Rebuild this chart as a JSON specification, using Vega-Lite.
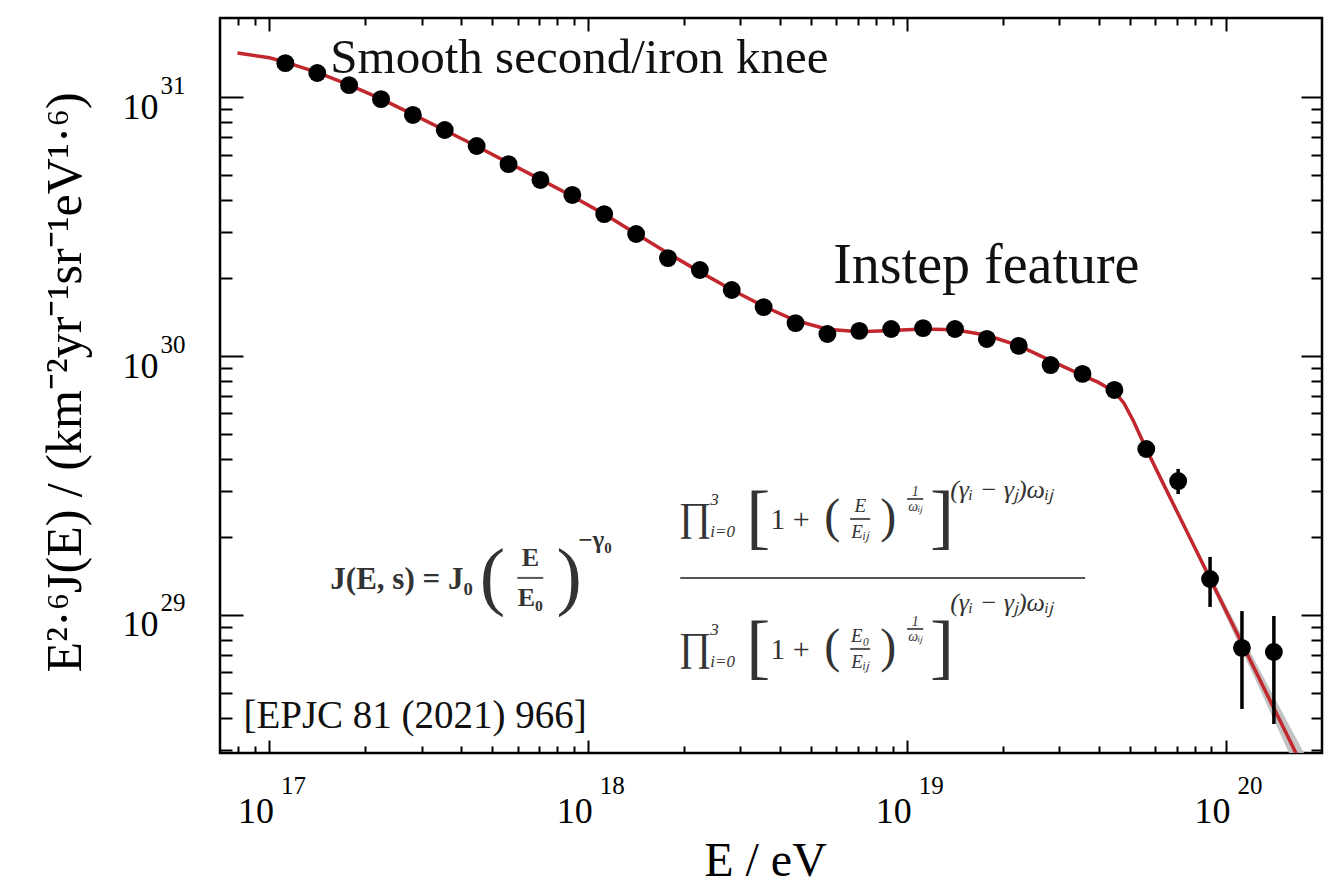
{
  "$schema": "https://vega.github.io/schema/vega-lite/v6.json",
  "width": 1102,
  "height": 735,
  "autosize": {"type": "none"},
  "padding": {"left": 220, "top": 18, "right": 10, "bottom": 141},
  "background": "white",
  "config": {
    "view": {"stroke": "black", "strokeWidth": 2.5},
    "font": "Liberation Serif",
    "axis": {"grid": false, "labelColor": "black", "titleColor": "black", "labelFont": "Liberation Serif", "titleFont": "Liberation Serif"}
  },
  "datasets": {
    "spectrum": [
      {"E": 1.122e17, "flux": 1.352e31}, {"E": 1.413e17, "flux": 1.239e31}, {"E": 1.778e17, "flux": 1.112e31},
      {"E": 2.239e17, "flux": 9.817e30}, {"E": 2.818e17, "flux": 8.531e30}, {"E": 3.548e17, "flux": 7.464e30},
      {"E": 4.467e17, "flux": 6.471e30}, {"E": 5.623e17, "flux": 5.508e30}, {"E": 7.079e17, "flux": 4.786e30},
      {"E": 8.913e17, "flux": 4.188e30}, {"E": 1.122e18, "flux": 3.532e30}, {"E": 1.413e18, "flux": 2.958e30},
      {"E": 1.778e18, "flux": 2.388e30}, {"E": 2.239e18, "flux": 2.148e30}, {"E": 2.818e18, "flux": 1.799e30},
      {"E": 3.548e18, "flux": 1.545e30}, {"E": 4.467e18, "flux": 1.340e30}, {"E": 5.623e18, "flux": 1.216e30},
      {"E": 7.079e18, "flux": 1.250e30}, {"E": 8.913e18, "flux": 1.271e30}, {"E": 1.122e19, "flux": 1.282e30},
      {"E": 1.413e19, "flux": 1.271e30}, {"E": 1.778e19, "flux": 1.164e30}, {"E": 2.239e19, "flux": 1.094e30},
      {"E": 2.818e19, "flux": 9.226e29}, {"E": 3.548e19, "flux": 8.531e29}, {"E": 4.467e19, "flux": 7.396e29},
      {"E": 5.623e19, "flux": 4.375e29}, {"E": 7.079e19, "flux": 3.289e29}, {"E": 8.913e19, "flux": 1.377e29},
      {"E": 1.122e20, "flux": 7.464e28}, {"E": 1.413e20, "flux": 7.194e28}
    ],
    "errors": [
      {"E": 7.079e19, "lo": 2.931e29, "hi": 3.664e29},
      {"E": 8.913e19, "lo": 1.074e29, "hi": 1.675e29},
      {"E": 1.122e20, "lo": 4.335e28, "hi": 1.035e29},
      {"E": 1.413e20, "lo": 3.793e28, "hi": 9.908e28}
    ],
    "fit": [
      {"E": 7.943e16, "flux": 1.479e31}, {"E": 1.0e17, "flux": 1.419e31}, {"E": 1.122e17, "flux": 1.365e31},
      {"E": 1.413e17, "flux": 1.245e31}, {"E": 1.778e17, "flux": 1.114e31}, {"E": 2.239e17, "flux": 9.840e30},
      {"E": 2.818e17, "flux": 8.570e30}, {"E": 3.548e17, "flux": 7.447e30}, {"E": 4.467e17, "flux": 6.457e30},
      {"E": 5.623e17, "flux": 5.572e30}, {"E": 7.079e17, "flux": 4.808e30}, {"E": 8.913e17, "flux": 4.140e30},
      {"E": 1.122e18, "flux": 3.532e30}, {"E": 1.413e18, "flux": 2.965e30}, {"E": 1.778e18, "flux": 2.495e30},
      {"E": 2.239e18, "flux": 2.113e30}, {"E": 2.818e18, "flux": 1.803e30}, {"E": 3.548e18, "flux": 1.556e30},
      {"E": 4.467e18, "flux": 1.371e30}, {"E": 5.623e18, "flux": 1.268e30}, {"E": 7.079e18, "flux": 1.242e30},
      {"E": 8.913e18, "flux": 1.256e30}, {"E": 1.122e19, "flux": 1.271e30}, {"E": 1.413e19, "flux": 1.262e30},
      {"E": 1.778e19, "flux": 1.202e30}, {"E": 2.239e19, "flux": 1.096e30}, {"E": 2.818e19, "flux": 9.594e29},
      {"E": 3.548e19, "flux": 8.414e29}, {"E": 3.981e19, "flux": 7.907e29}, {"E": 4.467e19, "flux": 7.278e29},
      {"E": 4.786e19, "flux": 6.577e29}, {"E": 5.129e19, "flux": 5.598e29}, {"E": 5.623e19, "flux": 4.375e29},
      {"E": 6.310e19, "flux": 3.273e29}, {"E": 7.943e19, "flux": 1.841e29}, {"E": 1.0e20, "flux": 1.035e29},
      {"E": 1.259e20, "flux": 5.821e28}, {"E": 1.585e20, "flux": 3.273e28}, {"E": 1.995e20, "flux": 1.841e28}
    ],
    "fitBand": [
      {"E": 6.310e19, "lo": 3.228e29, "hi": 3.319e29},
      {"E": 7.943e19, "lo": 1.791e29, "hi": 1.892e29},
      {"E": 1.0e20, "lo": 9.840e28, "hi": 1.089e29},
      {"E": 1.259e20, "lo": 5.358e28, "hi": 6.324e28},
      {"E": 1.585e20, "lo": 2.884e28, "hi": 3.715e28},
      {"E": 1.995e20, "lo": 1.549e28, "hi": 2.188e28}
    ],
    "formula": [
      {"E": 1.553e17, "flux": 1.365e29, "label": "J(E, s) = J₀", "part": "lhs"},
      {"E": 5.001e17, "flux": 1.390e29, "label": "(", "part": "paren"},
      {"E": 8.718e17, "flux": 1.390e29, "label": ")", "part": "paren"},
      {"E": 6.580e17, "flux": 1.661e29, "label": "E", "part": "frac"},
      {"E": 6.580e17, "flux": 1.163e29, "label": "E₀", "part": "frac"},
      {"E": 9.305e17, "flux": 1.948e29, "label": "−γ₀", "part": "sup"},
      {"E": 2.165e18, "flux": 2.369e29, "label": "∏", "part": "prod"},
      {"E": 2.412e18, "flux": 2.780e29, "label": "3", "part": "limit"},
      {"E": 2.412e18, "flux": 2.092e29, "label": "i=0", "part": "limit"},
      {"E": 3.411e18, "flux": 2.369e29, "label": "[", "part": "bracket"},
      {"E": 1.287e19, "flux": 2.369e29, "label": "]", "part": "bracket"},
      {"E": 3.720e18, "flux": 2.327e29, "label": "1 +", "part": "body"},
      {"E": 5.820e18, "flux": 2.369e29, "label": "(", "part": "mparen"},
      {"E": 8.718e18, "flux": 2.369e29, "label": ")", "part": "mparen"},
      {"E": 7.124e18, "flux": 2.635e29, "label": "E", "part": "sfrac"},
      {"E": 7.124e18, "flux": 2.092e29, "label": "Eᵢⱼ", "part": "sfrac"},
      {"E": 1.060e19, "flux": 2.985e29, "label": "1", "part": "tiny"},
      {"E": 1.060e19, "flux": 2.612e29, "label": "ωᵢⱼ", "part": "tiny"},
      {"E": 1.364e19, "flux": 3.038e29, "label": "(γᵢ − γⱼ)ωᵢⱼ", "part": "exp"},
      {"E": 2.165e18, "flux": 7.459e28, "label": "∏", "part": "prod"},
      {"E": 2.412e18, "flux": 8.754e28, "label": "3", "part": "limit"},
      {"E": 2.412e18, "flux": 6.584e28, "label": "i=0", "part": "limit"},
      {"E": 3.411e18, "flux": 7.459e28, "label": "[", "part": "bracket"},
      {"E": 1.287e19, "flux": 7.459e28, "label": "]", "part": "bracket"},
      {"E": 3.720e18, "flux": 7.327e28, "label": "1 +", "part": "body"},
      {"E": 5.820e18, "flux": 7.459e28, "label": "(", "part": "mparen"},
      {"E": 8.718e18, "flux": 7.459e28, "label": ")", "part": "mparen"},
      {"E": 7.124e18, "flux": 8.296e28, "label": "E₀", "part": "sfrac"},
      {"E": 7.124e18, "flux": 6.584e28, "label": "Eᵢⱼ", "part": "sfrac"},
      {"E": 1.060e19, "flux": 9.397e28, "label": "1", "part": "tiny"},
      {"E": 1.060e19, "flux": 8.224e28, "label": "ωᵢⱼ", "part": "tiny"},
      {"E": 1.364e19, "flux": 1.1125e29, "label": "(γᵢ − γⱼ)ωᵢⱼ", "part": "exp"}
    ],
    "fractionBars": [
      {"E": 5.990e17, "E2": 7.226e17, "flux": 1.390e29},
      {"E": 1.943e18, "E2": 3.614e19, "flux": 1.390e29},
      {"E": 6.626e18, "E2": 7.656e18, "flux": 2.348e29},
      {"E": 1.0e19, "E2": 1.123e19, "flux": 2.805e29},
      {"E": 6.626e18, "E2": 7.656e18, "flux": 7.391e28},
      {"E": 1.0e19, "E2": 1.123e19, "flux": 8.829e28}
    ],
    "notes": [
      {"E": 1.553e17, "flux": 1.238e31, "label": "Smooth second/iron knee", "kind": "knee"},
      {"E": 5.862e18, "flux": 1.914e30, "label": "Instep feature", "kind": "instep"},
      {"E": 8.288e16, "flux": 3.662e28, "label": "[EPJC 81 (2021) 966]", "kind": "ref"}
    ]
  },
  "resolve": {"axis": {"x": "independent", "y": "independent"}},
  "layer": [
    {
      "data": {"name": "fitBand"},
      "mark": {"type": "area", "color": "#bdbdbd", "opacity": 0.9, "clip": true},
      "encoding": {
        "x": {
          "field": "E", "type": "quantitative",
          "scale": {"type": "log", "domain": [7e16, 2e20], "nice": false},
          "axis": {
            "orient": "bottom", "values": [1e17, 1e18, 1e19, 1e20], "labelExpr": "'10'",
            "ticks": false, "domain": false, "grid": false,
            "labelFontSize": 36, "labelAlign": "right", "labelBaseline": "alphabetic",
            "labelOffset": 4, "labelPadding": 69, "labelFlush": false, "labelOverlap": false,
            "title": "E / eV", "titleFontSize": 48, "titleFontWeight": "normal",
            "titleX": 545, "titleY": 122, "titleAlign": "center", "titleBaseline": "alphabetic", "titleAngle": 0
          }
        },
        "y": {
          "field": "lo", "type": "quantitative",
          "scale": {"type": "log", "domain": [2.93e28, 2.02e31], "nice": false},
          "axis": {
            "orient": "left", "values": [1e29, 1e30, 1e31], "labelExpr": "'10'",
            "ticks": false, "domain": false, "grid": false,
            "labelFontSize": 36, "labelAlign": "right", "labelBaseline": "alphabetic",
            "labelOffset": 21, "labelPadding": 62, "labelFlush": false, "labelOverlap": false,
            "title": "E²·⁶J(E) / (km⁻²yr⁻¹sr⁻¹eV¹·⁶)", "titleFontSize": 50, "titleFontWeight": "normal",
            "titleAngle": -90, "titleX": -140, "titleY": 364, "titleAlign": "center", "titleBaseline": "alphabetic"
          }
        },
        "y2": {"field": "hi"}
      }
    },
    {
      "data": {"name": "fit"},
      "mark": {"type": "line", "color": "#c1272d", "strokeWidth": 3.5, "clip": true},
      "encoding": {
        "x": {
          "field": "E", "type": "quantitative",
          "scale": {"type": "log", "domain": [7e16, 2e20], "nice": false},
          "axis": {
            "orient": "bottom",
            "values": [8e16, 9e16, 1e17, 2e17, 3e17, 4e17, 5e17, 6e17, 7e17, 8e17, 9e17, 1e18, 2e18, 3e18, 4e18, 5e18, 6e18, 7e18, 8e18, 9e18, 1e19, 2e19, 3e19, 4e19, 5e19, 6e19, 7e19, 8e19, 9e19, 1e20],
            "labels": false, "domain": false, "grid": false, "title": null,
            "tickColor": "black", "tickWidth": 2,
            "tickSize": {"condition": {"test": "round(log(datum.value)/LN10*1000) % 1000 == 0", "value": -13}, "value": -7}
          }
        },
        "y": {
          "field": "flux", "type": "quantitative",
          "scale": {"type": "log", "domain": [2.93e28, 2.02e31], "nice": false},
          "axis": {
            "orient": "left",
            "values": [3e28, 4e28, 5e28, 6e28, 7e28, 8e28, 9e28, 1e29, 2e29, 3e29, 4e29, 5e29, 6e29, 7e29, 8e29, 9e29, 1e30, 2e30, 3e30, 4e30, 5e30, 6e30, 7e30, 8e30, 9e30, 1e31],
            "labels": false, "domain": false, "grid": false, "title": null,
            "tickColor": "black", "tickWidth": 2,
            "tickSize": {"condition": {"test": "round(log(datum.value)/LN10*1000) % 1000 == 0", "value": -23}, "value": -12}
          }
        }
      }
    },
    {
      "data": {"name": "errors"},
      "mark": {"type": "rule", "color": "black", "strokeWidth": 3.5},
      "encoding": {
        "x": {
          "field": "E", "type": "quantitative",
          "scale": {"type": "log", "domain": [7e16, 2e20], "nice": false},
          "axis": {
            "orient": "top",
            "values": [8e16, 9e16, 1e17, 2e17, 3e17, 4e17, 5e17, 6e17, 7e17, 8e17, 9e17, 1e18, 2e18, 3e18, 4e18, 5e18, 6e18, 7e18, 8e18, 9e18, 1e19, 2e19, 3e19, 4e19, 5e19, 6e19, 7e19, 8e19, 9e19, 1e20],
            "labels": false, "domain": false, "grid": false, "title": null,
            "tickColor": "black", "tickWidth": 2,
            "tickSize": {"condition": {"test": "round(log(datum.value)/LN10*1000) % 1000 == 0", "value": -13}, "value": -7}
          }
        },
        "y": {
          "field": "lo", "type": "quantitative",
          "scale": {"type": "log", "domain": [2.93e28, 2.02e31], "nice": false},
          "axis": {
            "orient": "right",
            "values": [3e28, 4e28, 5e28, 6e28, 7e28, 8e28, 9e28, 1e29, 2e29, 3e29, 4e29, 5e29, 6e29, 7e29, 8e29, 9e29, 1e30, 2e30, 3e30, 4e30, 5e30, 6e30, 7e30, 8e30, 9e30, 1e31],
            "labels": false, "domain": false, "grid": false, "title": null,
            "tickColor": "black", "tickWidth": 2,
            "tickSize": {"condition": {"test": "round(log(datum.value)/LN10*1000) % 1000 == 0", "value": -21}, "value": -11}
          }
        },
        "y2": {"field": "hi"}
      }
    },
    {
      "data": {"name": "spectrum"},
      "mark": {"type": "point", "filled": true, "shape": "circle", "size": 320, "color": "black", "opacity": 1},
      "encoding": {
        "x": {
          "field": "E", "type": "quantitative",
          "scale": {"type": "log", "domain": [7e16, 2e20], "nice": false},
          "axis": {
            "orient": "bottom", "values": [1e17, 1e18, 1e19, 1e20],
            "labelExpr": "format(log(datum.value)/LN10, '.0f')",
            "ticks": false, "domain": false, "grid": false, "title": null,
            "labelFontSize": 25, "labelAlign": "left", "labelBaseline": "alphabetic",
            "labelOffset": 11, "labelPadding": 40, "labelFlush": false, "labelOverlap": false
          }
        },
        "y": {
          "field": "flux", "type": "quantitative",
          "scale": {"type": "log", "domain": [2.93e28, 2.02e31], "nice": false},
          "axis": {
            "orient": "left", "values": [1e29, 1e30, 1e31],
            "labelExpr": "format(log(datum.value)/LN10, '.0f')",
            "ticks": false, "domain": false, "grid": false, "title": null,
            "labelFontSize": 25, "labelAlign": "left", "labelBaseline": "alphabetic",
            "labelOffset": -4, "labelPadding": 60, "labelFlush": false, "labelOverlap": false
          }
        }
      }
    },
    {
      "data": {"name": "fractionBars"},
      "mark": {"type": "rule", "color": "#555555", "strokeWidth": 2},
      "encoding": {
        "x": {"field": "E", "type": "quantitative", "scale": {"type": "log", "domain": [7e16, 2e20], "nice": false}, "axis": null},
        "x2": {"field": "E2"},
        "y": {"field": "flux", "type": "quantitative", "scale": {"type": "log", "domain": [2.93e28, 2.02e31], "nice": false}, "axis": null}
      }
    },
    {
      "data": {"name": "formula"},
      "transform": [{"filter": "datum.part == 'lhs'"}],
      "mark": {"type": "text", "font": "Liberation Serif", "fontSize": 31, "fontWeight": "bold", "align": "left", "baseline": "middle", "color": "#333333"},
      "encoding": {
        "x": {"field": "E", "type": "quantitative", "scale": {"type": "log", "domain": [7e16, 2e20], "nice": false}, "axis": null},
        "y": {"field": "flux", "type": "quantitative", "scale": {"type": "log", "domain": [2.93e28, 2.02e31], "nice": false}, "axis": null},
        "text": {"field": "label"}
      }
    },
    {
      "data": {"name": "formula"},
      "transform": [{"filter": "datum.part == 'paren'"}],
      "mark": {"type": "text", "font": "Liberation Serif", "fontSize": 76, "align": "center", "baseline": "middle", "color": "#333333"},
      "encoding": {
        "x": {"field": "E", "type": "quantitative", "scale": {"type": "log", "domain": [7e16, 2e20], "nice": false}, "axis": null},
        "y": {"field": "flux", "type": "quantitative", "scale": {"type": "log", "domain": [2.93e28, 2.02e31], "nice": false}, "axis": null},
        "text": {"field": "label"}
      }
    },
    {
      "data": {"name": "formula"},
      "transform": [{"filter": "datum.part == 'frac'"}],
      "mark": {"type": "text", "font": "Liberation Serif", "fontSize": 26, "fontWeight": "bold", "align": "center", "baseline": "middle", "color": "#333333"},
      "encoding": {
        "x": {"field": "E", "type": "quantitative", "scale": {"type": "log", "domain": [7e16, 2e20], "nice": false}, "axis": null},
        "y": {"field": "flux", "type": "quantitative", "scale": {"type": "log", "domain": [2.93e28, 2.02e31], "nice": false}, "axis": null},
        "text": {"field": "label"}
      }
    },
    {
      "data": {"name": "formula"},
      "transform": [{"filter": "datum.part == 'sup'"}],
      "mark": {"type": "text", "font": "Liberation Serif", "fontSize": 25, "fontWeight": "bold", "align": "left", "baseline": "middle", "color": "#333333"},
      "encoding": {
        "x": {"field": "E", "type": "quantitative", "scale": {"type": "log", "domain": [7e16, 2e20], "nice": false}, "axis": null},
        "y": {"field": "flux", "type": "quantitative", "scale": {"type": "log", "domain": [2.93e28, 2.02e31], "nice": false}, "axis": null},
        "text": {"field": "label"}
      }
    },
    {
      "data": {"name": "formula"},
      "transform": [{"filter": "datum.part == 'prod'"}],
      "mark": {"type": "text", "font": "Liberation Serif", "fontSize": 40, "align": "center", "baseline": "middle", "color": "#333333"},
      "encoding": {
        "x": {"field": "E", "type": "quantitative", "scale": {"type": "log", "domain": [7e16, 2e20], "nice": false}, "axis": null},
        "y": {"field": "flux", "type": "quantitative", "scale": {"type": "log", "domain": [2.93e28, 2.02e31], "nice": false}, "axis": null},
        "text": {"field": "label"}
      }
    },
    {
      "data": {"name": "formula"},
      "transform": [{"filter": "datum.part == 'limit'"}],
      "mark": {"type": "text", "font": "Liberation Serif", "fontSize": 17, "fontStyle": "italic", "align": "left", "baseline": "middle", "color": "#333333"},
      "encoding": {
        "x": {"field": "E", "type": "quantitative", "scale": {"type": "log", "domain": [7e16, 2e20], "nice": false}, "axis": null},
        "y": {"field": "flux", "type": "quantitative", "scale": {"type": "log", "domain": [2.93e28, 2.02e31], "nice": false}, "axis": null},
        "text": {"field": "label"}
      }
    },
    {
      "data": {"name": "formula"},
      "transform": [{"filter": "datum.part == 'bracket'"}],
      "mark": {"type": "text", "font": "Liberation Serif", "fontSize": 72, "align": "center", "baseline": "middle", "color": "#333333"},
      "encoding": {
        "x": {"field": "E", "type": "quantitative", "scale": {"type": "log", "domain": [7e16, 2e20], "nice": false}, "axis": null},
        "y": {"field": "flux", "type": "quantitative", "scale": {"type": "log", "domain": [2.93e28, 2.02e31], "nice": false}, "axis": null},
        "text": {"field": "label"}
      }
    },
    {
      "data": {"name": "formula"},
      "transform": [{"filter": "datum.part == 'body'"}],
      "mark": {"type": "text", "font": "Liberation Serif", "fontSize": 30, "align": "left", "baseline": "middle", "color": "#333333"},
      "encoding": {
        "x": {"field": "E", "type": "quantitative", "scale": {"type": "log", "domain": [7e16, 2e20], "nice": false}, "axis": null},
        "y": {"field": "flux", "type": "quantitative", "scale": {"type": "log", "domain": [2.93e28, 2.02e31], "nice": false}, "axis": null},
        "text": {"field": "label"}
      }
    },
    {
      "data": {"name": "formula"},
      "transform": [{"filter": "datum.part == 'mparen'"}],
      "mark": {"type": "text", "font": "Liberation Serif", "fontSize": 48, "align": "center", "baseline": "middle", "color": "#333333"},
      "encoding": {
        "x": {"field": "E", "type": "quantitative", "scale": {"type": "log", "domain": [7e16, 2e20], "nice": false}, "axis": null},
        "y": {"field": "flux", "type": "quantitative", "scale": {"type": "log", "domain": [2.93e28, 2.02e31], "nice": false}, "axis": null},
        "text": {"field": "label"}
      }
    },
    {
      "data": {"name": "formula"},
      "transform": [{"filter": "datum.part == 'sfrac'"}],
      "mark": {"type": "text", "font": "Liberation Serif", "fontSize": 19, "fontStyle": "italic", "align": "center", "baseline": "middle", "color": "#333333"},
      "encoding": {
        "x": {"field": "E", "type": "quantitative", "scale": {"type": "log", "domain": [7e16, 2e20], "nice": false}, "axis": null},
        "y": {"field": "flux", "type": "quantitative", "scale": {"type": "log", "domain": [2.93e28, 2.02e31], "nice": false}, "axis": null},
        "text": {"field": "label"}
      }
    },
    {
      "data": {"name": "formula"},
      "transform": [{"filter": "datum.part == 'tiny'"}],
      "mark": {"type": "text", "font": "Liberation Serif", "fontSize": 14, "fontStyle": "italic", "align": "center", "baseline": "middle", "color": "#333333"},
      "encoding": {
        "x": {"field": "E", "type": "quantitative", "scale": {"type": "log", "domain": [7e16, 2e20], "nice": false}, "axis": null},
        "y": {"field": "flux", "type": "quantitative", "scale": {"type": "log", "domain": [2.93e28, 2.02e31], "nice": false}, "axis": null},
        "text": {"field": "label"}
      }
    },
    {
      "data": {"name": "formula"},
      "transform": [{"filter": "datum.part == 'exp'"}],
      "mark": {"type": "text", "font": "Liberation Serif", "fontSize": 26, "fontStyle": "italic", "align": "left", "baseline": "middle", "color": "#333333"},
      "encoding": {
        "x": {"field": "E", "type": "quantitative", "scale": {"type": "log", "domain": [7e16, 2e20], "nice": false}, "axis": null},
        "y": {"field": "flux", "type": "quantitative", "scale": {"type": "log", "domain": [2.93e28, 2.02e31], "nice": false}, "axis": null},
        "text": {"field": "label"}
      }
    },
    {
      "data": {"name": "notes"},
      "transform": [{"filter": "datum.kind == 'knee'"}],
      "mark": {"type": "text", "font": "Liberation Serif", "fontSize": 49, "align": "left", "baseline": "alphabetic", "color": "#111111"},
      "encoding": {
        "x": {"field": "E", "type": "quantitative", "scale": {"type": "log", "domain": [7e16, 2e20], "nice": false}, "axis": null},
        "y": {"field": "flux", "type": "quantitative", "scale": {"type": "log", "domain": [2.93e28, 2.02e31], "nice": false}, "axis": null},
        "text": {"field": "label"}
      }
    },
    {
      "data": {"name": "notes"},
      "transform": [{"filter": "datum.kind == 'instep'"}],
      "mark": {"type": "text", "font": "Liberation Serif", "fontSize": 56, "align": "left", "baseline": "alphabetic", "color": "#111111"},
      "encoding": {
        "x": {"field": "E", "type": "quantitative", "scale": {"type": "log", "domain": [7e16, 2e20], "nice": false}, "axis": null},
        "y": {"field": "flux", "type": "quantitative", "scale": {"type": "log", "domain": [2.93e28, 2.02e31], "nice": false}, "axis": null},
        "text": {"field": "label"}
      }
    },
    {
      "data": {"name": "notes"},
      "transform": [{"filter": "datum.kind == 'ref'"}],
      "mark": {"type": "text", "font": "Liberation Serif", "fontSize": 39, "align": "left", "baseline": "alphabetic", "color": "#111111"},
      "encoding": {
        "x": {"field": "E", "type": "quantitative", "scale": {"type": "log", "domain": [7e16, 2e20], "nice": false}, "axis": null},
        "y": {"field": "flux", "type": "quantitative", "scale": {"type": "log", "domain": [2.93e28, 2.02e31], "nice": false}, "axis": null},
        "text": {"field": "label"}
      }
    }
  ]
}
